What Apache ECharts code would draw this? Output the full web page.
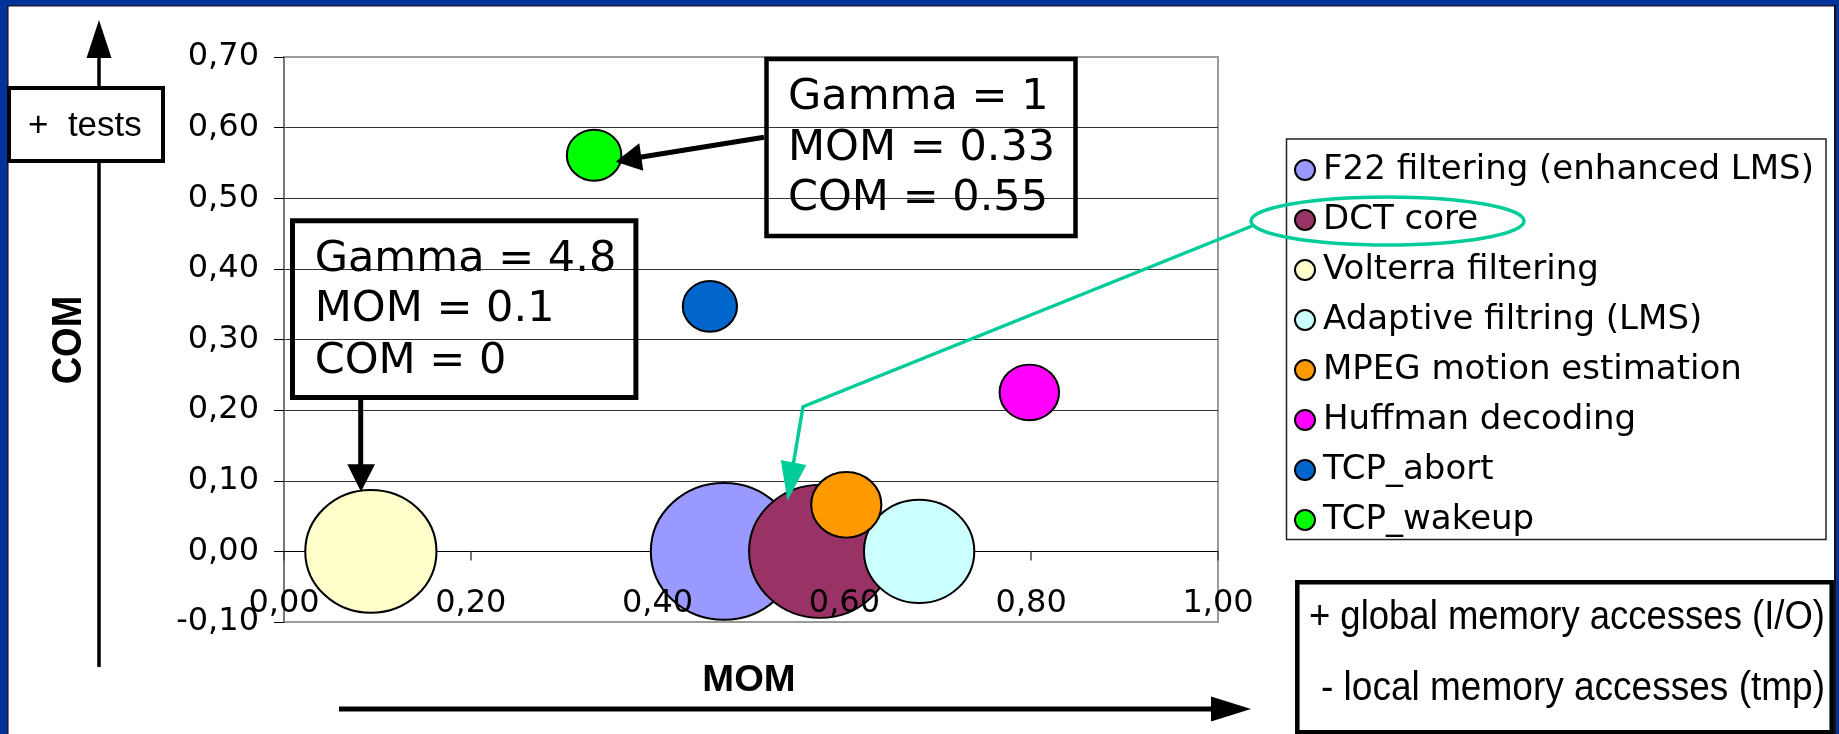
<!DOCTYPE html>
<html>
<head>
<meta charset="utf-8">
<script src="https://cdn.jsdelivr.net/npm/echarts@6/dist/echarts.min.js"></script>
<style>
html,body{margin:0;padding:0;background:#003399;overflow:hidden;}
#chart{width:1839px;height:734px;}
</style>
</head>
<body>
<div id="chart"></div>
<script>
// ---------- data ----------
const categories = ['F22 filtering (enhanced LMS)', 'DCT core', 'Volterra filtering', 'Adaptive filtring (LMS)', 'MPEG motion estimation', 'Huffman decoding', 'TCP_abort', 'TCP_wakeup'];
const momValues = [0.471, 0.574, 0.093, 0.680, 0.602, 0.798, 0.456, 0.332];
const comValues = [0.000, 0.000, 0.000, 0.000, 0.066, 0.225, 0.347, 0.561];
const bubbleSizes = [7.2, 6.8, 5.8, 4.1, 1.66, 1.19, 0.99, 1.0];
const seriesColors = ['#9999FF', '#993366', '#FFFFCC', '#CCFFFF', '#FF9900', '#FF00FF', '#0066CC', '#00FF00'];
const xTickLabels = ['0,00', '0,20', '0,40', '0,60', '0,80', '1,00'];
const yTickLabels = ['-0,10', '0,00', '0,10', '0,20', '0,30', '0,40', '0,50', '0,60', '0,70'];
const X_MIN = 0, X_MAX = 1, X_STEP = 0.2;
const Y_MIN = -0.1, Y_MAX = 0.7, Y_STEP = 0.1;

const FONT_V = 'DejaVu Sans';
const FONT_A = 'Liberation Sans';

const GRID = { left: 284, top: 57, width: 934, height: 565 };
// pixel distance from the bottom of the plot (y = Y_MIN) up to y = 0, where the x labels sit
const ZERO_OFFSET = GRID.height * (0 - Y_MIN) / (Y_MAX - Y_MIN);

const chart = echarts.init(document.getElementById('chart'), null, {renderer: 'canvas'});

function xLabel(v) { return xTickLabels[Math.round((v - X_MIN) / X_STEP)] || ''; }
function yLabel(v) { return yTickLabels[Math.round((v - Y_MIN) / Y_STEP)] || ''; }

const series = categories.map((name, i) => ({
  name: name,
  type: 'scatter',
  xAxisIndex: 0,
  yAxisIndex: 0,
  data: [[momValues[i], comValues[i], bubbleSizes[i]]],
  symbol: 'circle',
  symbolSize: function (val) { const d = 51 * Math.sqrt(val[2]); return [d * 1.068, d]; },
  itemStyle: { color: seriesColors[i], borderColor: '#000', borderWidth: 2, opacity: 1 },
  emphasis: { disabled: true },
  z: 2
}));

const Z = 100;
function txt(x, y, text, size, family, opts) {
  opts = opts || {};
  return Object.assign({
    type: 'text', x: x, y: y, z: Z,
    style: {
      text: text, fontSize: size, fontFamily: family, fontWeight: opts.bold ? 'bold' : 'normal',
      fill: '#000', align: opts.align || 'left', verticalAlign: 'middle'
    }
  }, opts.extra || {});
}

const graphics = [
  // frame
  { type: 'rect', z: -10, shape: { x: 8, y: 6, width: 1826, height: 728 }, style: { fill: '#ffffff' } },
  { type: 'rect', z: -9, shape: { x: 7, y: 5, width: 1.6, height: 729 }, style: { fill: '#1a1a33' } },
  { type: 'rect', z: -9, shape: { x: 7, y: 5, width: 1829, height: 1.6 }, style: { fill: '#1a1a33' } },
  { type: 'rect', z: -9, shape: { x: 1834, y: 5, width: 2, height: 729 }, style: { fill: '#111111' } },

  // vertical COM arrow
  { type: 'line', z: Z, shape: { x1: 99, y1: 55, x2: 99, y2: 667 }, style: { stroke: '#000', lineWidth: 3.5 } },
  { type: 'polygon', z: Z, shape: { points: [[99, 20], [86.5, 58], [111.5, 58]] }, style: { fill: '#000' } },
  { type: 'rect', z: Z + 1, shape: { x: 9, y: 88, width: 154, height: 73 }, style: { fill: '#fff', stroke: '#000', lineWidth: 4 } },
  txt(28, 126, '+  tests', 35, FONT_A, { extra: { z: Z + 2 } }),
  txt(69, 340, 'COM', 38, FONT_A, { bold: true, align: 'center', extra: { rotation: Math.PI / 2, scaleY: 1.12 } }),

  // horizontal MOM arrow
  txt(749, 681, 'MOM', 36, FONT_A, { bold: true, align: 'center', extra: { scaleX: 1.06 } }),
  { type: 'line', z: Z, shape: { x1: 339, y1: 709, x2: 1214, y2: 709 }, style: { stroke: '#000', lineWidth: 5 } },
  { type: 'polygon', z: Z, shape: { points: [[1251, 709], [1211, 696.5], [1211, 721.5]] }, style: { fill: '#000' } },

  // Gamma = 1 box
  { type: 'rect', z: Z, shape: { x: 766.5, y: 59, width: 309, height: 177 }, style: { fill: null, stroke: '#000', lineWidth: 4.5 } },
  txt(788, 97.5, 'Gamma = 1', 43, FONT_V),
  txt(788, 149, 'MOM = 0.33', 43, FONT_V),
  txt(788, 199, 'COM = 0.55', 43, FONT_V),
  { type: 'line', z: Z, shape: { x1: 764, y1: 137.3, x2: 640, y2: 157.2 }, style: { stroke: '#000', lineWidth: 5 } },
  { type: 'polygon', z: Z, shape: { points: [[615.6, 161.7], [639.3, 143.3], [643.3, 170.7]] }, style: { fill: '#000' } },

  // Gamma = 4.8 box
  { type: 'rect', z: Z, shape: { x: 292.5, y: 220.8, width: 343.4, height: 176.7 }, style: { fill: null, stroke: '#000', lineWidth: 5 } },
  txt(314.7, 260, 'Gamma = 4.8', 43, FONT_V),
  txt(314.7, 310, 'MOM = 0.1', 43, FONT_V),
  txt(314.7, 361.7, 'COM = 0', 43, FONT_V),
  { type: 'line', z: Z, shape: { x1: 360.7, y1: 399, x2: 360.7, y2: 467 }, style: { stroke: '#000', lineWidth: 5 } },
  { type: 'polygon', z: Z, shape: { points: [[361, 491.7], [347.3, 464.3], [375, 464.3]] }, style: { fill: '#000' } },

  // legend frame
  { type: 'rect', z: Z - 5, shape: { x: 1286.5, y: 139, width: 539.5, height: 400.5 }, style: { fill: null, stroke: '#222', lineWidth: 1.5 } },

  // teal highlight of DCT core
  { type: 'ellipse', z: Z + 5, shape: { cx: 1387.5, cy: 221, rx: 136.5, ry: 24 }, style: { fill: null, stroke: '#00CC99', lineWidth: 3.5 } },
  { type: 'polyline', z: Z + 5, shape: { points: [[1252, 226], [803, 406.7], [793.5, 463]] }, style: { fill: null, stroke: '#00CC99', lineWidth: 3.5 } },
  { type: 'polygon', z: Z + 5, shape: { points: [[787.5, 500.7], [780.8, 460], [806.3, 465]] }, style: { fill: '#00CC99' } },

  // bottom-right box
  { type: 'rect', z: Z, shape: { x: 1297.3, y: 582.3, width: 534.4, height: 150 }, style: { fill: '#fff', stroke: '#000', lineWidth: 4.5 } },
  txt(1825, 618, '+ global memory accesses (I/O)', 41, FONT_A, { align: 'right', extra: { scaleX: 0.89, z: Z + 1 } }),
  txt(1825, 689, '- local memory accesses (tmp)', 41, FONT_A, { align: 'right', extra: { scaleX: 0.903, z: Z + 1 } })
];

const option = {
  animation: false,
  backgroundColor: '#003399',
  grid: {
    left: GRID.left, top: GRID.top, width: GRID.width, height: GRID.height,
    show: true, borderColor: '#9a9a9a', borderWidth: 2, backgroundColor: 'transparent'
  },
  xAxis: [
    {
      type: 'value', min: X_MIN, max: X_MAX, interval: X_STEP, position: 'bottom', z: 0,
      axisLine: { show: true, onZero: true, lineStyle: { color: '#000', width: 1 } },
      axisTick: { show: true, length: 9, lineStyle: { color: '#444', width: 1.5 } },
      axisLabel: { show: false },
      splitLine: { show: false }
    },
    {
      type: 'value', min: X_MIN, max: X_MAX, interval: X_STEP, position: 'bottom', z: 10,
      offset: -ZERO_OFFSET,
      axisLine: { show: false, onZero: false },
      axisTick: { show: false },
      axisLabel: { show: true, margin: 36, formatter: xLabel, fontSize: 32, fontFamily: FONT_V, color: '#000' },
      splitLine: { show: false }
    }
  ],
  yAxis: {
    type: 'value', min: Y_MIN, max: Y_MAX, interval: Y_STEP,
    axisLine: { show: true, onZero: false, lineStyle: { color: '#777', width: 2 } },
    axisTick: { show: true, length: 10, lineStyle: { color: '#000', width: 1 } },
    axisLabel: { margin: 25, formatter: yLabel, fontSize: 32, fontFamily: FONT_V, color: '#000' },
    splitLine: { show: true, showMinLine: false, showMaxLine: false, lineStyle: { color: '#333', width: 1 } }
  },
  legend: {
    orient: 'vertical', left: 1294, top: 153, padding: 0,
    itemWidth: 26, itemHeight: 20, itemGap: 16,
    icon: 'circle', selectedMode: false,
    textStyle: { fontSize: 34, fontFamily: FONT_V, color: '#000', lineHeight: 34 },
    data: categories
  },
  graphic: { elements: graphics },
  series: series
};
chart.setOption(option);
</script>
</body>
</html>
